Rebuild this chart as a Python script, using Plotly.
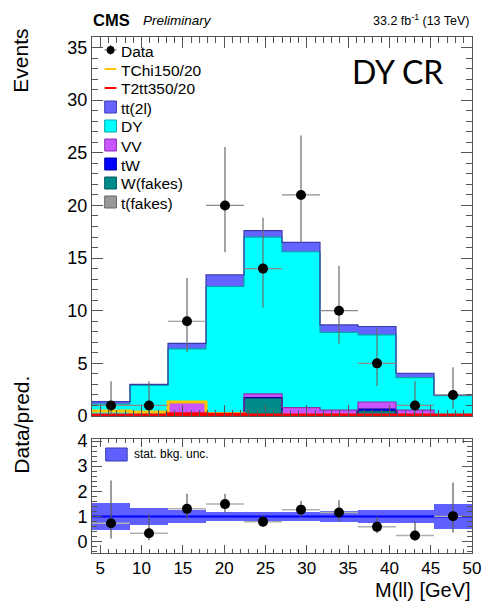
import plotly.graph_objects as go

# ---- binning -------------------------------------------------------------
bin_edges = [4.0, 8.6, 13.2, 17.8, 22.4, 27.0, 31.6, 36.2, 40.8, 45.4, 50.0]

# ---- background components (stacked bottom -> top) ---------------------
bkg_names = ["t(fakes)", "W(fakes)", "tW", "VV", "DY", "tt(2l)"]
t_fakes = [0.00, 0.00, 0.00, 0.00, 0.00, 0.00, 0.00, 0.10, 0.00, 0.00]
w_fakes = [0.02, 0.02, 0.10, 0.02, 1.75, 0.00, 0.00, 0.35, 0.00, 0.00]
tw      = [0.01, 0.01, 0.10, 0.01, 0.00, 0.02, 0.00, 0.20, 0.02, 0.00]
vv      = [0.02, 0.02, 1.07, 0.02, 0.35, 0.78, 0.55, 0.68, 0.53, 0.03]
dy      = [1.07, 2.85, 5.10, 12.25, 14.90, 14.80, 7.40, 6.37, 3.10, 1.90]
tt2l    = [0.24, 0.10, 0.53, 1.10, 0.60, 0.90, 0.70, 0.80, 0.41, 0.04]

bkg_fill = ["#999999", "#008b8b", "#0000ff", "#c855ff", "#00ffff", "#6464ff"]
bkg_edge = ["#666666", "#005a5a", "#0000a0", "#8a30b0", "#00a8a8", "#3a3ab0"]

# ---- signal models -------------------------------------------------------
tchi_150_20 = [0.48, 0.38, 1.33, 0.22, 0.0, 0.0, 0.0, 0.0, 0.0, 0.0]
t2tt_350_20 = [0.00, 0.00, 0.12, 0.08, 0.0, 0.0, 0.0, 0.0, 0.0, 0.0]

# ---- observed data with asymmetric Poisson intervals -------------------
data = [1, 1, 9, 20, 14, 21, 10, 5, 1, 2]
data_err_up = [2.30, 2.30, 4.11, 5.55, 4.83, 5.65, 4.26, 3.38, 2.30, 2.64]
data_err_dn = [0.83, 0.83, 2.94, 4.44, 3.70, 4.55, 3.11, 2.16, 0.83, 1.29]

# relative statistical uncertainty on the total background
bkg_stat_rel = [0.53, 0.35, 0.24, 0.18, 0.18, 0.18, 0.20, 0.25, 0.27, 0.50]

# ---- derived quantities --------------------------------------------------
centers = [(a + b) / 2 for a, b in zip(bin_edges[:-1], bin_edges[1:])]
widths = [b - a for a, b in zip(bin_edges[:-1], bin_edges[1:])]
half_w = [w / 2 for w in widths]
components = [t_fakes, w_fakes, tw, vv, dy, tt2l]
total = [sum(c[i] for c in components) for i in range(len(centers))]
ratio = [d / t for d, t in zip(data, total)]
ratio_up = [e / t for e, t in zip(data_err_up, total)]
ratio_dn = [e / t for e, t in zip(data_err_dn, total)]


def step(vals):
    """Histogram outline points for line_shape='hv'."""
    return list(bin_edges), list(vals) + [vals[-1]]


fig = go.Figure()

# stacked filled histograms
base = [0.0] * len(centers)
tops = []
for vals, fill in zip(components, bkg_fill):
    fig.add_trace(go.Bar(x=centers, y=vals, base=list(base), width=widths,
                         marker=dict(color=fill, line=dict(width=0)),
                         showlegend=False, xaxis="x", yaxis="y"))
    base = [b + v for b, v in zip(base, vals)]
    tops.append(list(base))

# outlines of each stack level
for top, edge in zip(tops, bkg_edge):
    xs, ys = step(top)
    fig.add_trace(go.Scatter(x=xs, y=ys, mode="lines", line_shape="hv",
                             line=dict(color=edge, width=1.2),
                             showlegend=False, hoverinfo="skip",
                             xaxis="x", yaxis="y"))

# signal outlines
for vals, col, w in [(tchi_150_20, "#ffc400", 3), (t2tt_350_20, "#ff0000", 5)]:
    xs, ys = step(vals)
    fig.add_trace(go.Scatter(x=xs, y=ys, mode="lines", line_shape="hv",
                             line=dict(color=col, width=w),
                             showlegend=False, hoverinfo="skip",
                             xaxis="x", yaxis="y"))

# data points
fig.add_trace(go.Scatter(
    x=centers, y=data, mode="markers",
    marker=dict(color="black", size=10),
    error_y=dict(type="data", symmetric=False, array=data_err_up,
                 arrayminus=data_err_dn, color="#6a6a6a", thickness=1.2, width=0),
    error_x=dict(type="data", array=half_w, color="#8a8a8a", thickness=1.2, width=0),
    showlegend=False, xaxis="x", yaxis="y"))

# ---- ratio panel ---------------------------------------------------------
fig.add_trace(go.Bar(x=centers, y=[2 * r for r in bkg_stat_rel],
                     base=[1 - r for r in bkg_stat_rel], width=widths,
                     marker=dict(color="#6060ff", line=dict(width=0)),
                     showlegend=False, xaxis="x2", yaxis="y2"))
fig.add_trace(go.Scatter(x=[bin_edges[0], bin_edges[-1]], y=[1, 1], mode="lines",
                         line=dict(color="#0000ff", width=2),
                         showlegend=False, hoverinfo="skip",
                         xaxis="x2", yaxis="y2"))
fig.add_trace(go.Scatter(
    x=centers, y=ratio, mode="markers",
    marker=dict(color="black", size=10),
    error_y=dict(type="data", symmetric=False, array=ratio_up,
                 arrayminus=ratio_dn, color="#5a5a5a", thickness=1.2, width=0),
    error_x=dict(type="data", array=half_w, color="#b0b0b0", thickness=1.5, width=0),
    showlegend=False, xaxis="x2", yaxis="y2"))

# ---- layout --------------------------------------------------------------
L, R, T, B = 92, 481, 37, 553
W, H = R - L, B - T


def px(x):
    return (x - L) / W


def py(y):
    return (B - y) / H


FONT = "Liberation Sans, Arial, Helvetica, sans-serif"
axis_common = dict(showline=True, linecolor="#555555", linewidth=1, mirror="allticks",
                   ticks="inside", tickcolor="#555555", showgrid=False, zeroline=False,
                   tickfont=dict(family=FONT, size=18, color="black"))

fig.update_layout(
    width=491, height=601,
    margin=dict(l=L, r=491 - R, t=T, b=601 - B),
    paper_bgcolor="white", plot_bgcolor="white",
    barmode="overlay", bargap=0,
    showlegend=False,
    xaxis=dict(domain=[0, 1], range=[4, 50], anchor="y", showticklabels=False,
               tick0=5, dtick=5, ticklen=11,
               minor=dict(dtick=1, ticks="inside", ticklen=6, tickcolor="#555555"),
               **axis_common),
    yaxis=dict(domain=[py(416), 1], range=[0, 36], anchor="x",
               tick0=0, dtick=5, ticklen=11,
               minor=dict(dtick=1, ticks="inside", ticklen=6, tickcolor="#555555"),
               **axis_common),
    xaxis2=dict(domain=[0, 1], range=[4, 50], anchor="y2",
                tick0=5, dtick=5, ticklen=8, ticklabelstandoff=0,
                minor=dict(dtick=1, ticks="inside", ticklen=4, tickcolor="#555555"),
                **axis_common),
    yaxis2=dict(domain=[0, py(439)], range=[-0.45, 4.08], anchor="x2",
                tick0=0, dtick=1, ticklen=10,
                minor=dict(dtick=0.2, ticks="inside", ticklen=5, tickcolor="#555555"),
                **axis_common),
)
fig.update_xaxes(selector=dict(anchor="y2"), tickfont=dict(size=17))

ann = []


def text(x, y, s, size, xanchor="left", yanchor="middle", angle=0, family=FONT, **kw):
    ann.append(dict(x=px(x), y=py(y), xref="paper", yref="paper", text=s,
                    showarrow=False, xanchor=xanchor, yanchor=yanchor,
                    textangle=angle, font=dict(family=family, size=size, color="black"),
                    **kw))


# header
text(91, 20, "<b>CMS</b>", 16.5)
text(142, 21, "<i>Preliminary</i>", 13.5)
text(481, 20, "33.2 fb<sup>-1</sup> (13 TeV)", 12.5, xanchor="right")
# axis titles
text(19, 61, "Events", 21, xanchor="center", angle=-90)
text(19, 425, "Data/pred.", 21, xanchor="center", angle=-90)
text(482, 590, "M(ll) [GeV]", 20, xanchor="right")
# region label
text(405, 71, "DY CR", 32, xanchor="center", family="Lato, Noto Sans, sans-serif")

# legend
shapes = []
leg_x0, leg_x1, txt_x = 105, 117, 120
row0, drow = 50, 19
legend_rows = [("Data", "data", None, None),
               ("TChi150/20", "line", "#ffc400", None),
               ("T2tt350/20", "line", "#ff0000", None)]
for name, fill, edge in zip(bkg_names[::-1], bkg_fill[::-1], bkg_edge[::-1]):
    legend_rows.append((name, "box", fill, edge))

for i, (name, kind, col, edge) in enumerate(legend_rows):
    yc = row0 + i * drow
    if kind == "data":
        xc = (leg_x0 + leg_x1) / 2
        shapes.append(dict(type="line", xref="paper", yref="paper",
                           x0=px(leg_x0), x1=px(leg_x1), y0=py(yc), y1=py(yc),
                           line=dict(color="#555555", width=1)))
        shapes.append(dict(type="line", xref="paper", yref="paper",
                           x0=px(xc), x1=px(xc), y0=py(yc - 5), y1=py(yc + 5),
                           line=dict(color="#555555", width=1)))
        shapes.append(dict(type="circle", xref="paper", yref="paper",
                           x0=px(xc - 4), x1=px(xc + 4), y0=py(yc - 4), y1=py(yc + 4),
                           fillcolor="black", line=dict(color="black", width=0)))
    elif kind == "line":
        shapes.append(dict(type="line", xref="paper", yref="paper",
                           x0=px(leg_x0), x1=px(leg_x1), y0=py(yc), y1=py(yc),
                           line=dict(color=col, width=2)))
    else:
        shapes.append(dict(type="rect", xref="paper", yref="paper",
                           x0=px(leg_x0), x1=px(leg_x1), y0=py(yc - 6), y1=py(yc + 6),
                           fillcolor=col, line=dict(color=edge, width=1)))
    text(txt_x, yc + 1, name, 15.5)

# ratio legend
shapes.append(dict(type="rect", xref="paper", yref="paper",
                   x0=px(106), x1=px(128), y0=py(448), y1=py(461),
                   fillcolor="#6060ff", line=dict(color="#3a3ab0", width=1)))
text(133, 454, "stat. bkg. unc.", 12)

for s in shapes:
    s["layer"] = "above"
fig.update_layout(annotations=ann, shapes=shapes)

fig.write_html("out.html")
